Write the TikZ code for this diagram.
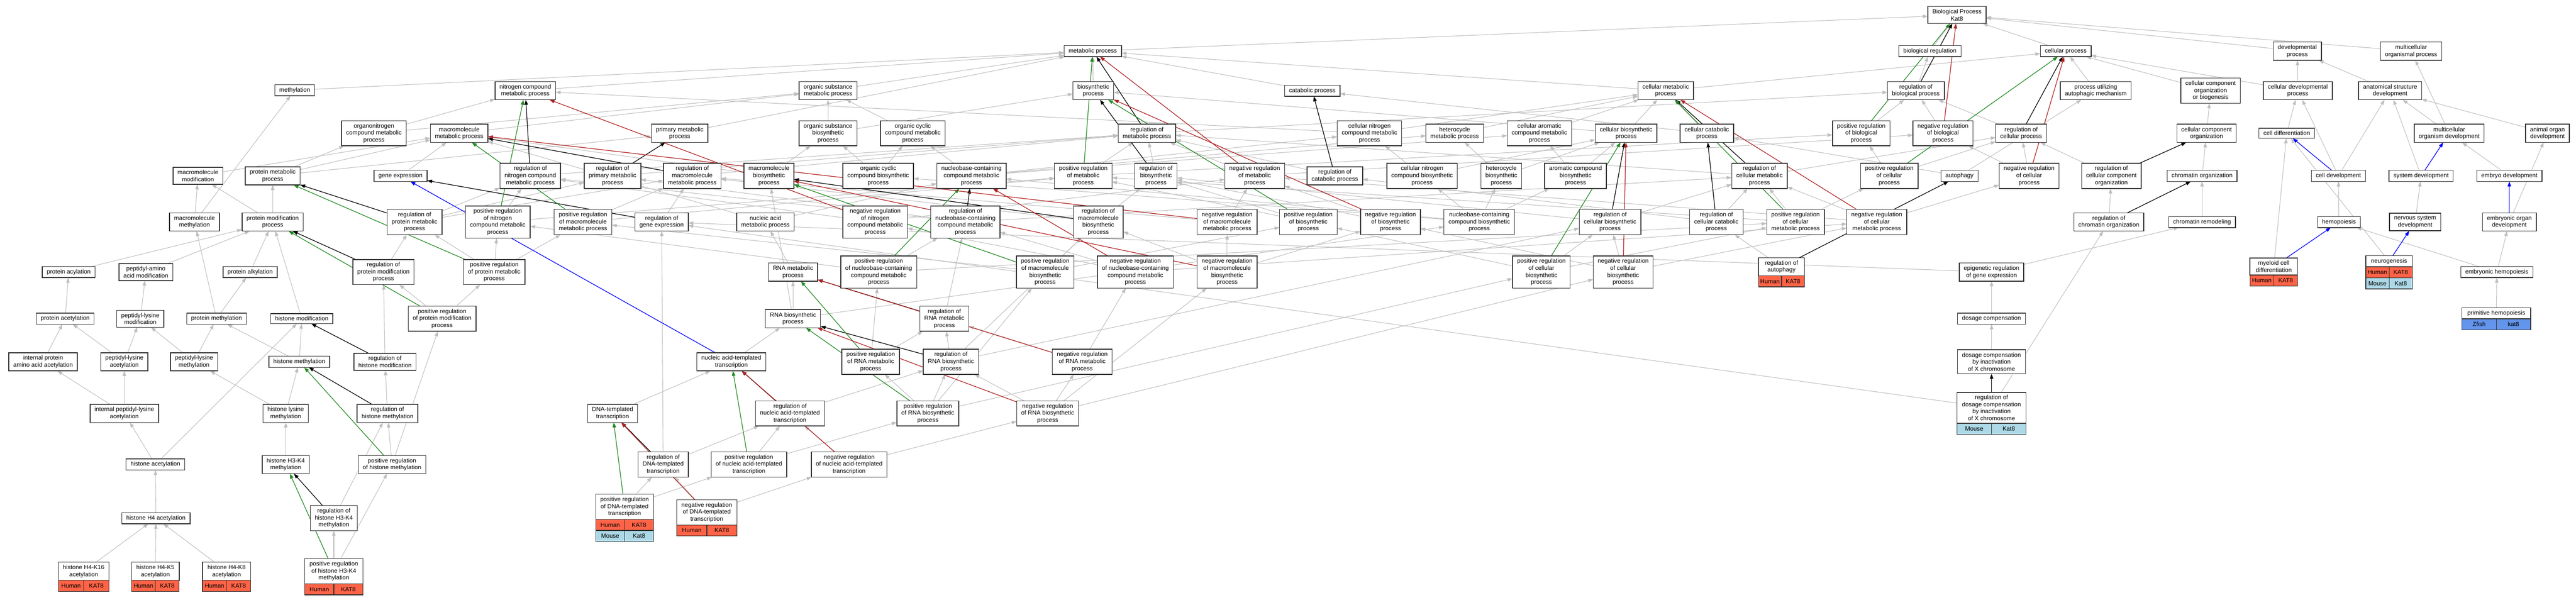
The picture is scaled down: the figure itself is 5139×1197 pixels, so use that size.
\documentclass[tikz,border=0pt]{standalone}
\usepackage{fontspec}
\setmainfont{Liberation Sans}
\usetikzlibrary{arrows.meta}
\definecolor{isagray}{HTML}{BFBFBF}
\definecolor{posgreen}{HTML}{228B22}
\definecolor{negred}{HTML}{B22222}
\definecolor{humcol}{HTML}{FF6347}
\definecolor{moucol}{HTML}{ADD8E6}
\definecolor{zfcol}{HTML}{6495ED}
\pgfdeclarelayer{edgelayer}
\pgfsetlayers{edgelayer,main}
\newcommand{\cellrow}[6]{%
  \node[cellbox,fill=#3,anchor=north west,minimum width=#4] (#2) at (#1.south west) {#5};
  \node[cellbox,fill=#3,anchor=north west,minimum width=#4] (#2r) at (#2.north east) {#6};}
\begin{document}
\begin{tikzpicture}[x=1pt,y=-1pt,
  term/.style={draw=black!80,line width=1.5pt,fill=white,align=center,font=\fontsize{12}{14}\selectfont,inner xsep=9pt,inner ysep=5.5pt,outer sep=0pt},
  cellbox/.style={draw=black!80,line width=1.3pt,inner sep=0pt,outer sep=0pt,minimum height=22pt,font=\fontsize{12}{14}\selectfont},
  edgebase/.style={line width=1.1pt,-{Triangle[length=10pt,width=7pt]}},
  isa/.style={edgebase,draw=isagray},
  regl/.style={edgebase,draw=black,line width=1.3pt},
  posl/.style={edgebase,draw=posgreen,line width=1.3pt},
  negl/.style={edgebase,draw=negred,line width=1.3pt},
  partl/.style={edgebase,draw=blue,line width=1.3pt}]
\useasboundingbox (0,0) rectangle (5139,1197);
\begin{pgfonlayer}{edgelayer}
\fill[white] (0,0) rectangle (5139,1197);
\end{pgfonlayer}
% rank 0-1
\node[term] (BP) at (3904,30) {Biological Process\\Kat8};
\node[term] (mp) at (2180,102) {metabolic process};
\node[term] (br) at (3850,102) {biological regulation};
\node[term] (cp) at (4121,102) {cellular process};
\node[term] (dp) at (4583,102) {developmental\\process};
\node[term] (mop) at (4810,102) {multicellular\\organismal process};
% rank 2
\node[term] (meth) at (588,180) {methylation};
\node[term] (ncmp) at (1048,181) {nitrogen compound\\metabolic process};
\node[term] (osmp) at (1652,181) {organic substance\\metabolic process};
\node[term] (bsp) at (2181,181) {biosynthetic\\process};
\node[term] (catp) at (2618,181) {catabolic process};
\node[term] (cmp) at (3323,181) {cellular metabolic\\process};
\node[term] (rbp) at (3822,181) {regulation of\\biological process};
\node[term] (puam) at (4181,181) {process utilizing\\autophagic mechanism};
\node[term] (ccob) at (4410,181) {cellular component\\organization\\or biogenesis};
\node[term] (cdp) at (4584,181) {cellular developmental\\process};
\node[term] (asd) at (4768,181) {anatomical structure\\development};
% rank 3
\node[term] (oncmp) at (746,266) {organonitrogen\\compound metabolic\\process};
\node[term] (mmp) at (916,266) {macromolecule\\metabolic process};
\node[term] (pmp) at (1356,266) {primary metabolic\\process};
\node[term] (osbp) at (1652,266) {organic substance\\biosynthetic\\process};
\node[term] (occmp) at (1821,266) {organic cyclic\\compound metabolic\\process};
\node[term] (rmp) at (2288,266) {regulation of\\metabolic process};
\node[term] (cncmp) at (2732,266) {cellular nitrogen\\compound metabolic\\process};
\node[term] (hmp) at (2902,266) {heterocycle\\metabolic process};
\node[term] (cacmp) at (3071,266) {cellular aromatic\\compound metabolic\\process};
\node[term] (cbp) at (3244,266) {cellular biosynthetic\\process};
\node[term] (ccp) at (3405,266) {cellular catabolic\\process};
\node[term] (prbp) at (3713,266) {positive regulation\\of biological\\process};
\node[term] (nrbp) at (3876,266) {negative regulation\\of biological\\process};
\node[term] (rcp) at (4032,266) {regulation of\\cellular process};
\node[term] (cco) at (4402,266) {cellular component\\organization};
\node[term] (cdiff) at (4562,266) {cell differentiation};
\node[term] (mod) at (4886,266) {multicellular\\organism development};
\node[term] (aod) at (5082,266) {animal organ\\development};
% rank 4
\node[term] (mmod) at (395,351) {macromolecule\\modification};
\node[term] (prmp) at (544,351) {protein metabolic\\process};
\node[term] (ge) at (799,351) {gene expression};
\node[term] (rncmp) at (1058,351) {regulation of\\nitrogen compound\\metabolic process};
\node[term] (rpmp) at (1222,351) {regulation of\\primary metabolic\\process};
\node[term] (rmmp) at (1381,351) {regulation of\\macromolecule\\metabolic process};
\node[term] (mbp) at (1534,351) {macromolecule\\biosynthetic\\process};
\node[term] (occbp) at (1752,351) {organic cyclic\\compound biosynthetic\\process};
\node[term] (nccmp) at (1938,351) {nucleobase-containing\\compound metabolic\\process};
\node[term] (prmet) at (2161,351) {positive regulation\\of metabolic\\process};
\node[term] (rbsp) at (2306,351) {regulation of\\biosynthetic\\process};
\node[term] (nrmet) at (2503,351) {negative regulation\\of metabolic\\process};
\node[term] (rcatp) at (2663,351) {regulation of\\catabolic process};
\node[term] (cncbp) at (2837,351) {cellular nitrogen\\compound biosynthetic\\process};
\node[term] (hbp) at (2995,351) {heterocycle\\biosynthetic\\process};
\node[term] (acbp) at (3143,351) {aromatic compound\\biosynthetic\\process};
\node[term] (rcmp) at (3510,351) {regulation of\\cellular metabolic\\process};
\node[term] (prcp) at (3769,351) {positive regulation\\of cellular\\process};
\node[term] (autoph) at (3909,351) {autophagy};
\node[term] (nrcp) at (4048,351) {negative regulation\\of cellular\\process};
\node[term] (rcco) at (4212,351) {regulation of\\cellular component\\organization};
\node[term] (chro) at (4393,351) {chromatin organization};
\node[term] (celldev) at (4665,351) {cell development};
\node[term] (sysdev) at (4830,351) {system development};
\node[term] (embdev) at (5006,351) {embryo development};
% rank 5
\node[term] (mmeth) at (388,443) {macromolecule\\methylation};
\node[term] (pmod) at (544,443) {protein modification\\process};
\node[term] (rprmp) at (827,443) {regulation of\\protein metabolic\\process};
\node[term] (prncmp) at (993,443) {positive regulation\\of nitrogen\\compound metabolic\\process};
\node[term] (prmmp) at (1163,443) {positive regulation\\of macromolecule\\metabolic process};
\node[term] (rge) at (1320,443) {regulation of\\gene expression};
\node[term] (nam) at (1527,443) {nucleic acid\\metabolic process};
\node[term] (nrncmp) at (1746,443) {negative regulation\\of nitrogen\\compound metabolic\\process};
\node[term] (rnccmp) at (1926,443) {regulation of\\nucleobase-containing\\compound metabolic\\process};
\node[term] (rmbp) at (2191,443) {regulation of\\macromolecule\\biosynthetic\\process};
\node[term] (nrmmp) at (2448,443) {negative regulation\\of macromolecule\\metabolic process};
\node[term] (prbsp) at (2610,443) {positive regulation\\of biosynthetic\\process};
\node[term] (nrbsp) at (2774,443) {negative regulation\\of biosynthetic\\process};
\node[term] (ncbp) at (2951,443) {nucleobase-containing\\compound biosynthetic\\process};
\node[term] (rcbp) at (3212,443) {regulation of\\cellular biosynthetic\\process};
\node[term] (rccp) at (3424,443) {regulation of\\cellular catabolic\\process};
\node[term] (prcmp) at (3582,443) {positive regulation\\of cellular\\metabolic process};
\node[term] (nrcmp) at (3744,443) {negative regulation\\of cellular\\metabolic process};
\node[term] (rchro) at (4207,443) {regulation of\\chromatin organization};
\node[term] (chrem) at (4393,443) {chromatin remodeling};
\node[term] (hemo) at (4666,443) {hemopoiesis};
\node[term] (nsd) at (4818,443) {nervous system\\development};
\node[term] (eod) at (5006,443) {embryonic organ\\development};
% rank 6
\node[term] (pacyl) at (137,543) {protein acylation};
\node[term] (paam) at (291,543) {peptidyl-amino\\acid modification};
\node[term] (palk) at (499,543) {protein alkylation};
\node[term] (rpmod) at (765,543) {regulation of\\protein modification\\process};
\node[term] (prprmp) at (986,543) {positive regulation\\of protein metabolic\\process};
\node[term] (rnamp) at (1582,543) {RNA metabolic\\process};
\node[term] (prnccmp) at (1753,543) {positive regulation\\of nucleobase-containing\\compound metabolic\\process};
\node[term] (prmbp) at (2085,543) {positive regulation\\of macromolecule\\biosynthetic\\process};
\node[term] (nrnccmp) at (2265,543) {negative regulation\\of nucleobase-containing\\compound metabolic\\process};
\node[term] (nrmbp) at (2448,543) {negative regulation\\of macromolecule\\biosynthetic\\process};
\node[term] (prcbp) at (3075,543) {positive regulation\\of cellular\\biosynthetic\\process};
\node[term] (nrcbp) at (3238,543) {negative regulation\\of cellular\\biosynthetic\\process};
\node[term,minimum width=92pt] (rauto) at (3554,532.5) {regulation of\\autophagy};
\cellrow{rauto}{rautoa}{humcol}{46pt}{Human}{KAT8}
\node[term] (epi) at (3973,543) {epigenetic regulation\\of gene expression};
\node[term,minimum width=95pt] (mcd) at (4536,532) {myeloid cell\\differentiation};
\cellrow{mcd}{mcda}{humcol}{47.5pt}{Human}{KAT8}
\node[term,minimum width=93pt] (neuro) at (4766,521.5) {neurogenesis};
\cellrow{neuro}{neuroa}{humcol}{46.5pt}{Human}{KAT8}
\cellrow{neuroa}{neurob}{moucol}{46.5pt}{Mouse}{Kat8}
\node[term] (ehemo) at (4981,543) {embryonic hemopoiesis};
% rank 7
\node[term] (pacet) at (130,636) {protein acetylation};
\node[term] (plmod) at (280,636) {peptidyl-lysine\\modification};
\node[term] (pmeth) at (432,636) {protein methylation};
\node[term] (hmod) at (602,636) {histone modification};
\node[term] (prpmod) at (882,636) {positive regulation\\of protein modification\\process};
\node[term] (rnabp) at (1582,636) {RNA biosynthetic\\process};
\node[term] (rrnamp) at (1884,636) {regulation of\\RNA metabolic\\process};
\node[term] (dosc) at (3973,636) {dosage compensation};
\node[term,minimum width=137pt] (phemo) at (4980,625) {primitive hemopoiesis};
\cellrow{phemo}{phemoa}{zfcol}{68.5pt}{Zfish}{kat8}
% rank 8
\node[term] (ipaaa) at (86,722) {internal protein\\amino acid acetylation};
\node[term] (plac) at (248,722) {peptidyl-lysine\\acetylation};
\node[term] (plme) at (387,722) {peptidyl-lysine\\methylation};
\node[term] (hmeth) at (597,722) {histone methylation};
\node[term] (rhmod) at (768,722) {regulation of\\histone modification};
\node[term] (natt) at (1459,722) {nucleic acid-templated\\transcription};
\node[term] (prrnamp) at (1737,722) {positive regulation\\of RNA metabolic\\process};
\node[term] (rrnabp) at (1897,722) {regulation of\\RNA biosynthetic\\process};
\node[term] (nrrnamp) at (2159,722) {negative regulation\\of RNA metabolic\\process};
\node[term] (dcx) at (3973,722) {dosage compensation\\by inactivation\\of X chromosome};
% rank 9
\node[term] (iplac) at (248,825) {internal peptidyl-lysine\\acetylation};
\node[term] (hlme) at (570,825) {histone lysine\\methylation};
\node[term] (rhme) at (773,825) {regulation of\\histone methylation};
\node[term] (dtt) at (1222,825) {DNA-templated\\transcription};
\node[term] (rnatt) at (1576,825) {regulation of\\nucleic acid-templated\\transcription};
\node[term] (prrnabp) at (1851,825) {positive regulation\\of RNA biosynthetic\\process};
\node[term] (nrrnabp) at (2090,825) {negative regulation\\of RNA biosynthetic\\process};
\node[term,minimum width=138pt] (rdcx) at (3973,814) {regulation of\\dosage compensation\\by inactivation\\of X chromosome};
\cellrow{rdcx}{rdcxa}{moucol}{69pt}{Mouse}{Kat8}
% rank 10
\node[term] (hacet) at (310,927) {histone acetylation};
\node[term] (h3k4) at (570,927) {histone H3-K4\\methylation};
\node[term] (prhme) at (782,927) {positive regulation\\of histone methylation};
\node[term] (rdtt) at (1323,927) {regulation of\\DNA-templated\\transcription};
\node[term] (prnatt) at (1494,927) {positive regulation\\of nucleic acid-templated\\transcription};
\node[term] (nrnatt) at (1694,927) {negative regulation\\of nucleic acid-templated\\transcription};
% rank 11
\node[term] (h4ac) at (311,1034) {histone H4 acetylation};
\node[term] (rh3k4) at (666,1034) {regulation of\\histone H3-K4\\methylation};
\node[term,minimum width=115pt] (prdtt) at (1246,1011.5) {positive regulation\\of DNA-templated\\transcription};
\cellrow{prdtt}{prdtta}{humcol}{57.5pt}{Human}{KAT8}
\cellrow{prdtta}{prdttb}{moucol}{57.5pt}{Mouse}{Kat8}
\node[term,minimum width=120pt] (nrdtt) at (1410,1022.5) {negative regulation\\of DNA-templated\\transcription};
\cellrow{nrdtt}{nrdtta}{humcol}{60pt}{Human}{KAT8}
% rank 12
\node[term,minimum width=101pt] (h4k16) at (167,1140) {histone H4-K16\\acetylation};
\cellrow{h4k16}{h4k16a}{humcol}{50.5pt}{Human}{KAT8}
\node[term,minimum width=95pt] (h4k5) at (310,1140) {histone H4-K5\\acetylation};
\cellrow{h4k5}{h4k5a}{humcol}{47.5pt}{Human}{KAT8}
\node[term,minimum width=96pt] (h4k8) at (452,1140) {histone H4-K8\\acetylation};
\cellrow{h4k8}{h4k8a}{humcol}{48pt}{Human}{KAT8}
\node[term,minimum width=116pt] (prh3k4) at (666,1140) {positive regulation\\of histone H3-K4\\methylation};
\cellrow{prh3k4}{prh3k4a}{humcol}{58pt}{Human}{KAT8}

\begin{pgfonlayer}{edgelayer}
\foreach \a/\b in {mp/BP, br/BP, cp/BP, dp/BP, mop/BP,
 meth/mp, ncmp/mp, osmp/mp, bsp/mp, catp/mp, cmp/mp, pmp/mp, cmp/cp,
 rbp/br, puam/cp, ccob/cp, cdp/cp, cdp/dp, asd/dp,
 oncmp/ncmp, oncmp/osmp, mmp/osmp, osbp/osmp, osbp/bsp, occmp/osmp,
 mbp/mmp, mbp/osbp, occbp/occmp, occbp/osbp,
 nccmp/occmp, nccmp/hmp, nccmp/cacmp, nccmp/cncmp,
 nam/nccmp, nam/mmp, rnamp/nam, ge/mmp,
 rnabp/rnamp, rnabp/ncbp, rnabp/mbp, natt/rnabp, dtt/natt,
 cbp/bsp, cbp/cmp, ccp/cmp, ccp/catp, hmp/cmp, cacmp/cmp, cncmp/ncmp, cncmp/cmp,
 cncbp/cncmp, cncbp/cbp, hbp/hmp, hbp/cbp, acbp/cacmp, acbp/cbp,
 ncbp/hbp, ncbp/acbp, ncbp/cncbp, ncbp/nccmp, ncbp/occbp}
 \draw[isa] (\a) -- (\b);
\foreach \a/\b in {mmod/mmp, mmeth/mmod, mmeth/meth, prmp/oncmp, prmp/mmp, prmp/pmp,
 pmod/mmod, pmod/prmp, pacyl/pmod, paam/pmod, palk/pmod,
 pacet/pacyl, plmod/paam, pmeth/palk, pmeth/mmeth, hmod/pmod,
 ipaaa/pacet, plac/pacet, plac/plmod, plme/plmod, plme/pmeth, hmeth/pmeth, hmeth/hmod,
 rhmod/rpmod, iplac/ipaaa, iplac/plac, hlme/hmeth, hlme/plme, rhme/rhmod,
 hacet/iplac, hacet/hmod, h3k4/hlme, prhme/rhme, prhme/prpmod, h4ac/hacet, rh3k4/rhme,
 h4k16/h4ac, h4k5/h4ac, h4k8/h4ac, prh3k4/rh3k4, prh3k4/prhme}
 \draw[isa] (\a) -- (\b);
\foreach \a/\b in {rmp/rbp, prmet/rmp, prmet/prbp, nrmet/rmp, nrmet/nrbp, rbsp/rmp,
 prbsp/rbsp, prbsp/prmet, nrbsp/rbsp, nrbsp/nrmet, rcatp/rmp, rncmp/rmp, rpmp/rmp, rmmp/rmp,
 rcmp/rmp, rcmp/rcp, rcp/rbp, prbp/rbp, nrbp/rbp, prcp/prbp, prcp/rcp, nrcp/nrbp, nrcp/rcp,
 rprmp/rmmp, rprmp/rncmp, rprmp/rpmp, prncmp/rncmp, prncmp/prmet, prmmp/rmmp, prmmp/prmet,
 rge/rmmp, prprmp/rprmp, prprmp/prncmp, prprmp/prmmp, rpmod/rprmp, prpmod/rpmod, prpmod/prprmp,
 nrncmp/rncmp, nrncmp/nrmet, rnccmp/rcmp, rnccmp/rncmp, rnccmp/rpmp,
 prnccmp/rnccmp, prnccmp/prcmp, prnccmp/prncmp, nrnccmp/rnccmp, nrnccmp/nrcmp, nrnccmp/nrncmp}
 \draw[isa] (\a) -- (\b);
\foreach \a/\b in {rmbp/rbsp, rmbp/rmmp, nrmmp/rmmp, nrmmp/nrmet, prmbp/rmbp, prmbp/prmmp, prmbp/prbsp,
 nrmbp/rmbp, nrmbp/nrmmp, nrmbp/nrbsp, rcbp/rcmp, rcbp/rbsp, prcbp/rcbp, prcbp/prbsp, prcbp/prcmp,
 nrcbp/rcbp, nrcbp/nrbsp, nrcbp/nrcmp, rccp/rcatp, rccp/rcmp, prcmp/rcmp, prcmp/prcp, prcmp/prmet,
 nrcmp/rcmp, nrcmp/nrcp, nrcmp/nrmet, rcco/rcp, rchro/rcco, cco/ccob, chro/cco, chrem/chro,
 epi/rge, epi/chrem, dosc/epi, dcx/dosc, rdcx/rchro, rdcx/rge, rauto/rccp, autoph/puam, autoph/ccp}
 \draw[isa] (\a) -- (\b);
\foreach \a/\b in {rrnamp/rnccmp, rrnabp/rrnamp, rrnabp/rcbp, rrnabp/rmbp, prrnamp/rrnamp, prrnamp/prnccmp,
 nrrnamp/rrnamp, nrrnamp/nrnccmp, prrnabp/rrnabp, prrnabp/prrnamp, prrnabp/prmbp, prrnabp/prcbp,
 nrrnabp/rrnabp, nrrnabp/nrrnamp, nrrnabp/nrmbp, nrrnabp/nrcbp, rnatt/rrnabp, prnatt/rnatt, prnatt/prrnabp,
 nrnatt/rnatt, nrnatt/nrrnabp, rdtt/rnatt, rdtt/rge, prdtt/rdtt, prdtt/prnatt, nrdtt/rdtt, nrdtt/nrnatt,
 cdiff/cdp, celldev/cdp, celldev/asd, mod/asd, mod/mop, aod/asd, sysdev/asd, embdev/mod,
 hemo/celldev, nsd/sysdev, eod/aod, mcd/cdiff, neuro/cdiff, ehemo/hemo, ehemo/eod, phemo/ehemo}
 \draw[isa] (\a) -- (\b);
\foreach \a/\b in {rbp/BP, rcp/cp, rmp/mp, rbsp/bsp, rcatp/catp, rncmp/ncmp, rpmp/pmp, rmmp/mmp,
 rcmp/cmp, rprmp/prmp, rge/ge, rpmod/pmod, rhmod/hmod, rhme/hmeth, rh3k4/h3k4, rnccmp/nccmp,
 rmbp/mbp, rcbp/cbp, rccp/ccp, rcco/cco, rchro/chro, rdcx/dcx, rauto/autoph, rrnamp/rnamp,
 rrnabp/rnabp, rnatt/natt, rdtt/dtt}
 \draw[regl] (\a) -- (\b);
\foreach \a/\b in {prbp/BP, prcp/cp, prmet/mp, prbsp/bsp, prncmp/ncmp, prmmp/mmp, prcmp/cmp,
 prprmp/prmp, prpmod/pmod, prhme/hmeth, prh3k4/h3k4, prnccmp/nccmp, prmbp/mbp, prcbp/cbp,
 prrnamp/rnamp, prrnabp/rnabp, prnatt/natt, prdtt/dtt}
 \draw[posl] (\a) -- (\b);
\foreach \a/\b in {nrbp/BP, nrcp/cp, nrmet/mp, nrbsp/bsp, nrncmp/ncmp, nrmmp/mmp, nrcmp/cmp,
 nrnccmp/nccmp, nrmbp/mbp, nrcbp/cbp, nrrnamp/rnamp, nrrnabp/rnabp, nrnatt/natt, nrdtt/dtt}
 \draw[negl] (\a) -- (\b);
\foreach \a/\b in {natt/ge, celldev/cdiff, sysdev/mod, eod/embdev, mcd/hemo, neuro/nsd}
 \draw[partl] (\a) -- (\b);
\end{pgfonlayer}
\end{tikzpicture}
\end{document}
